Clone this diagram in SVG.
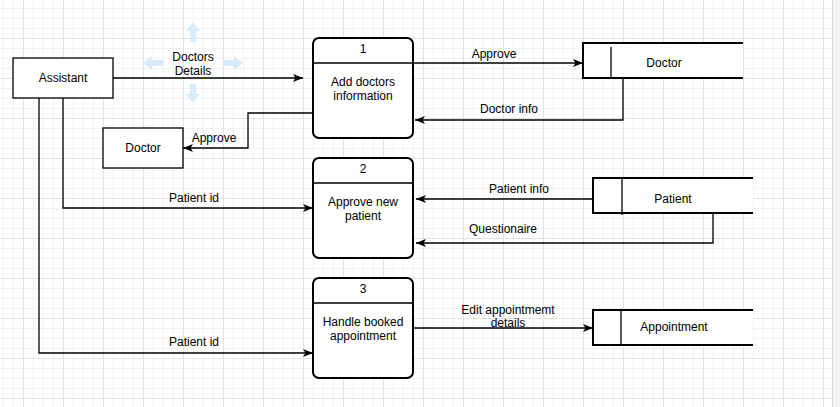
<svg xmlns="http://www.w3.org/2000/svg" width="840" height="407" viewBox="0 0 840 407">
<style>
text{font-family:"Liberation Sans",Arial,sans-serif;font-size:12px;fill:#000;text-anchor:middle}
.box{fill:#fff;stroke:#000;stroke-width:1.3}
.proc{fill:#fff;stroke:#000;stroke-width:2}
.ds{fill:#fff;stroke:none}
.dsl{stroke:#000;stroke-width:2;fill:none}
.thin{stroke:#000;stroke-width:1.3;fill:none}
.edge{stroke:#000;stroke-width:1.3;fill:none;marker-end:url(#arr)}
.mv{fill:#d7ebfa}
</style>
<defs>
<pattern id="minor" patternUnits="userSpaceOnUse" x="3" y="8" width="10" height="10">
<path d="M0,0.5H10M0.5,0V10" stroke="#f2f2f2" stroke-width="1" fill="none"/>
</pattern>
<pattern id="major" patternUnits="userSpaceOnUse" x="23" y="38" width="40" height="40">
<path d="M0,0.5H40M0.5,0V40" stroke="#e2e2e2" stroke-width="1" fill="none"/>
</pattern>
<marker id="arr" markerUnits="userSpaceOnUse" markerWidth="12" markerHeight="10" refX="10" refY="4.5" orient="auto">
<path d="M0,0.5L10,4.5L0,8.5L2.5,4.5Z" fill="#000"/>
</marker>
</defs>
<rect width="840" height="407" fill="#fff"/>
<rect width="832" height="407" fill="url(#minor)"/>
<rect width="832" height="407" fill="url(#major)"/>
<rect x="832" y="0" width="8" height="407" fill="#f3f3f3"/>
<line x1="832.5" y1="0" x2="832.5" y2="407" stroke="#dcdcdc"/>

<g id="move-handle">
<path class="mv" d="M193,22L200,31H196V42H190V31H186Z"/>
<path class="mv" d="M193,103L200,94H196V84H190V94H186Z"/>
<path class="mv" d="M143,63L152,56V60H163V66H152V70Z"/>
<path class="mv" d="M243,63L234,56V60H223V66H234V70Z"/>
</g>

<g id="connectors">
<path class="edge" d="M113,78H303"/>
<path class="edge" d="M413,63H583"/>
<path class="edge" d="M623,78V120H415"/>
<path class="edge" d="M313,113H248V148H183"/>
<path class="edge" d="M63,98V208H313"/>
<path class="edge" d="M593,199H416"/>
<path class="edge" d="M713,213V243H416"/>
<path class="edge" d="M413,328H593"/>
<path class="edge" d="M39,98V353H313"/>
<text x="193" y="61">Doctors</text>
<text x="193" y="75">Details</text>
<text x="494" y="58">Approve</text>
<text x="509" y="113">Doctor info</text>
<text x="214" y="142">Approve</text>
<text x="194" y="202">Patient id</text>
<text x="519" y="193">Patient info</text>
<text x="503" y="233">Questionaire</text>
<text x="508" y="314">Edit appointmemt</text>
<text x="508" y="327">details</text>
<text x="194" y="346">Patient id</text>
</g>

<g id="assistant">
<rect class="box" x="13" y="58" width="100" height="40"/>
<text x="63" y="82">Assistant</text>
</g>

<g id="doctor-entity">
<rect class="box" x="103" y="128" width="80" height="40"/>
<text x="143" y="152">Doctor</text>
</g>

<g id="process-1">
<rect class="proc" x="313" y="38" width="100" height="100" rx="6"/>
<line class="thin" x1="313" y1="63" x2="413" y2="63"/>
<text x="363" y="53">1</text>
<text x="363" y="86">Add doctors</text>
<text x="363" y="100">information</text>
</g>

<g id="process-2">
<rect class="proc" x="313" y="158" width="100" height="100" rx="6"/>
<line class="thin" x1="313" y1="183" x2="413" y2="183"/>
<text x="363" y="173">2</text>
<text x="363" y="206">Approve new</text>
<text x="363" y="220">patient</text>
</g>

<g id="process-3">
<rect class="proc" x="313" y="278" width="100" height="100" rx="6"/>
<line class="thin" x1="313" y1="303" x2="413" y2="303"/>
<text x="363" y="293">3</text>
<text x="363" y="326">Handle booked</text>
<text x="363" y="340">appointment</text>
</g>

<g id="store-doctor">
<rect class="ds" x="583" y="43" width="160" height="35"/>
<path class="dsl" d="M743,43H583V78H743"/>
<line class="thin" x1="611" y1="47" x2="611" y2="78"/>
<text x="664" y="67">Doctor</text>
</g>

<g id="store-patient">
<rect class="ds" x="593" y="178" width="160" height="35"/>
<path class="dsl" d="M753,178H593V213H753"/>
<line class="thin" x1="622" y1="178" x2="622" y2="215"/>
<text x="673" y="203">Patient</text>
</g>

<g id="store-appointment">
<rect class="ds" x="593" y="310" width="160" height="35"/>
<path class="dsl" d="M753,310H593V345H753" stroke="#333"/>
<line class="thin" x1="621" y1="310" x2="621" y2="345"/>
<text x="674" y="331">Appointment</text>
</g>
</svg>
